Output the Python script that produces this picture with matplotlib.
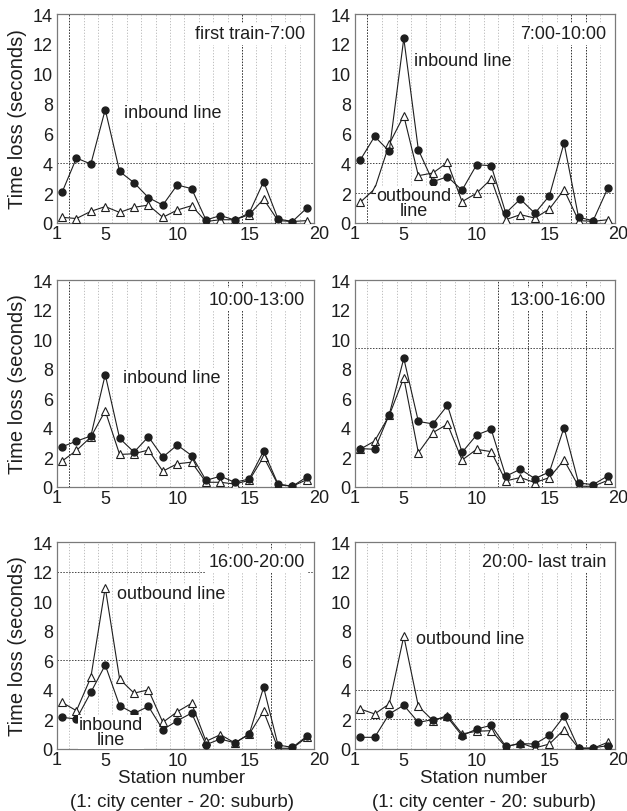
import matplotlib
matplotlib.use("Agg")
import matplotlib.pyplot as plt

plt.rcParams["font.family"] = ["Liberation Sans", "DejaVu Sans"]

# station numbers (x categories)
stations = [2, 3, 4, 5, 6, 7, 8, 9, 10, 11, 12, 13, 14, 15, 16, 17, 18, 19]

# time loss (seconds), inbound = filled circles, outbound = open triangles
inbound_1 = [2.05, 4.35, 3.95, 7.6, 3.45, 2.7, 1.7, 1.2, 2.55, 2.3, 0.2, 0.5, 0.2, 0.67, 2.77, 0.27, 0.1, 1.0]
outbound_1 = [0.38, 0.3, 0.78, 1.1, 0.71, 1.05, 1.2, 0.38, 0.87, 1.16, 0.1, 0.22, 0.22, 0.56, 1.6, 0.16, 0.1, 0.16]

inbound_2 = [4.2, 5.8, 4.8, 12.37, 4.9, 2.77, 3.1, 2.2, 3.9, 3.84, 0.67, 1.6, 0.65, 1.83, 5.36, 0.38, 0.16, 2.32]
outbound_2 = [1.38, 2.28, 5.29, 7.19, 3.17, 3.35, 4.06, 1.43, 2.0, 2.95, 0.22, 0.56, 0.33, 0.94, 2.23, 0.16, 0.11, 0.22]

inbound_3 = [2.72, 3.1, 3.45, 7.6, 3.29, 2.36, 3.4, 2.02, 2.84, 2.13, 0.45, 0.73, 0.32, 0.54, 2.43, 0.2, 0.05, 0.68]
outbound_3 = [1.75, 2.47, 3.38, 5.15, 2.2, 2.25, 2.5, 1.07, 1.57, 1.68, 0.32, 0.32, 0.2, 0.45, 2.04, 0.16, 0.05, 0.5]

inbound_4 = [2.6, 2.55, 4.9, 8.7, 4.43, 4.27, 5.52, 2.34, 3.52, 3.9, 0.73, 1.2, 0.57, 1.02, 4.02, 0.27, 0.16, 0.75]
outbound_4 = [2.55, 3.11, 4.84, 7.39, 2.32, 3.68, 4.25, 1.82, 2.55, 2.39, 0.41, 0.64, 0.3, 0.64, 1.82, 0.05, 0.05, 0.45]

inbound_5 = [2.14, 2.03, 3.83, 5.68, 2.93, 2.41, 2.88, 1.31, 1.91, 2.43, 0.29, 0.68, 0.41, 1.01, 4.17, 0.27, 0.11, 0.86]
outbound_5 = [3.15, 2.59, 4.84, 10.92, 4.73, 3.78, 4.0, 1.8, 2.52, 3.09, 0.52, 0.97, 0.41, 1.01, 2.55, 0.05, 0.05, 0.79]

inbound_6 = [0.79, 0.79, 2.37, 2.96, 1.8, 1.99, 2.14, 0.9, 1.35, 1.6, 0.18, 0.36, 0.34, 0.93, 2.21, 0.05, 0.07, 0.23]
outbound_6 = [2.71, 2.37, 3.05, 7.63, 2.89, 1.92, 2.26, 1.02, 1.2, 1.24, 0.14, 0.41, 0.07, 0.34, 1.31, 0.05, 0.05, 0.45]

periods = ["first train-7:00", "7:00-10:00", "10:00-13:00",
           "13:00-16:00", "16:00-20:00", "20:00- last train"]

# dark dotted reference lines of each panel
vlines = [[2.5, 14.5], [2.5, 16.5, 17.5], [2.5, 13.5, 14.5],
          [11.5, 13.5, 14.5, 17.5], [16.5], [17.5]]
hlines = [[4], [4, 2], [], [9.4], [12, 6], [4, 2]]

inbound = [inbound_1, inbound_2, inbound_3, inbound_4, inbound_5, inbound_6]
outbound = [outbound_1, outbound_2, outbound_3, outbound_4, outbound_5, outbound_6]

# labels placed on the curves
notes = [
    [("inbound line", 6.3, 7.4, "left")],
    [("inbound line", 5.7, 10.9, "left"), ("outbound\nline", 5.7, 1.35, "center")],
    [("inbound line", 6.2, 7.4, "left")],
    [],
    [("outbound line", 5.8, 10.5, "left"), ("inbound\nline", 5.4, 1.15, "center")],
    [("outbound line", 5.85, 7.5, "left")],
]

W, H = 627, 812
fig = plt.figure(figsize=(W / 100, H / 100), dpi=100)

cols = [(57, 257), (355, 260)]
rows = [(15, 209), (281, 207), (543, 207)]
frame = "#7a7a7a"
ink = "#1e1e1e"

for i in range(6):
    r, c = divmod(i, 2)
    left, width = cols[c]
    top, height = rows[r]
    ax = fig.add_axes([left / W, 1 - (top + height) / H, width / W, height / H])

    ax.set_xlim(1.65, 19.5)
    ax.set_ylim(0, 14)

    # light station grid
    for g in range(2, 19):
        ax.axvline(g + 0.5, color="#b4b4b4", lw=0.6, ls=(0, (1.5, 2)), zorder=0)
    for v in vlines[i]:
        ax.axvline(v, color="#333333", lw=0.7, ls=(0, (1.5, 1.5)), zorder=1)
    for h in hlines[i]:
        ax.axhline(h, color="#444444", lw=0.7, ls=(0, (1.5, 1.5)), zorder=1)

    ax.plot(stations, outbound[i], color=ink, lw=0.8, marker="^", ms=6,
            mfc="white", mec=ink, mew=0.8, zorder=3)
    ax.plot(stations, inbound[i], color=ink, lw=0.8, marker="o", ms=5,
            mfc=ink, mec=ink, zorder=4)

    ax.set_xticks([5, 10, 15])
    ax.set_yticks(range(0, 15, 2))
    ax.tick_params(length=0, labelsize=13, colors=ink)
    ax.tick_params(axis="x", pad=2)
    ax.tick_params(axis="y", pad=3)
    xt = ax.get_xaxis_transform()
    ax.text(1.62, -0.01, "1", transform=xt, ha="center", va="top",
            fontsize=13, color=ink, clip_on=False)
    ax.text(19.85 if c == 0 else 19.7, -0.01, "20", transform=xt,
            ha="center", va="top", fontsize=13, color=ink, clip_on=False)

    for s in ax.spines.values():
        s.set_color(frame)
        s.set_linewidth(0.9)

    ax.text(0.965, 0.905, periods[i], transform=ax.transAxes, ha="right",
            va="center", fontsize=13, color=ink, zorder=5,
            bbox=dict(facecolor="white", edgecolor="none", pad=2))

    for txt, x, y, ha in notes[i]:
        ax.text(x, y, txt, ha=ha, va="center", fontsize=13, color=ink,
                linespacing=0.85, zorder=5,
                bbox=dict(facecolor="white", edgecolor="none", pad=0.5))

    if c == 0:
        fig.text(18 / W, 1 - (top + height / 2) / H, "Time loss (seconds)",
                 rotation=90, ha="center", va="center", fontsize=14.5, color=ink)

for cx in (182, 484):
    fig.text(cx / W, 1 - 779 / H, "Station number", ha="center", va="center",
             fontsize=13.5, color=ink)
    fig.text(cx / W, 1 - 803 / H, "(1: city center - 20: suburb)", ha="center",
             va="center", fontsize=13.5, color=ink)

fig.savefig("out.png", dpi=100, facecolor="white")
